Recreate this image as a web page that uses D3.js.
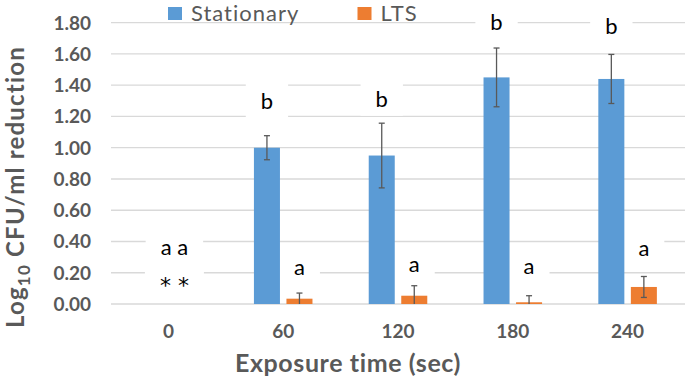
<!DOCTYPE html>
<html>
<head>
<meta charset="utf-8">
<script src="https://cdn.jsdelivr.net/npm/d3@7"></script>
<style>
  html, body { margin: 0; padding: 0; background: #fff; }
  svg { display: block; font-family: Lato, 'Open Sans', sans-serif; }
</style>
</head>
<body>
<svg id="chart"></svg>
<script>
// data
const categories = ['0', '60', '120', '180', '240'];
const seriesNames = ['Stationary', 'LTS'];
const stationary = [0, 1.00, 0.95, 1.45, 1.44];
const stationaryErr = [0, 0.077, 0.207, 0.188, 0.157];
const lts = [0, 0.034, 0.053, 0.011, 0.109];
const ltsErr = [0, 0.036, 0.064, 0.042, 0.067];
const yTicks = [0, 0.2, 0.4, 0.6, 0.8, 1.0, 1.2, 1.4, 1.6, 1.8];

// significance letters and the value height they sit at
const stationaryLetters = ['', 'b', 'b', 'b', 'b'];
const stationaryLetterAt = [0, 1.248, 1.262, 1.753, 1.728];
const ltsLetters = ['', 'a', 'a', 'a', 'a'];
const ltsLetterAt = [0, 0.186, 0.207, 0.192, 0.307];
const zeroNotes = ['a a', '* *'];
const zeroNoteAt = [0.314, 0.072];

const colors = { Stationary: '#5B9BD5', LTS: '#ED7D31' };

const W = 685, H = 377;
const svg = d3.select('#chart').attr('width', W).attr('height', H);

const x0 = d3.scaleBand().domain(categories).range([111, 685]).padding(0);
const bw = x0.bandwidth();
const x1 = d3.scaleBand().domain(seriesNames)
  .range([bw * 0.245, bw * 0.755]).paddingInner(0.2);
const y = d3.scaleLinear().domain([0, 1.8]).range([304, 22.7]);

// gridlines
svg.append('g')
  .selectAll('line')
  .data(yTicks)
  .join('line')
  .attr('x1', 111).attr('x2', 685)
  .attr('y1', d => y(d)).attr('y2', d => y(d))
  .attr('stroke', '#D9D9D9').attr('stroke-width', 1.3);

// y tick labels
svg.append('g')
  .selectAll('text')
  .data(yTicks)
  .join('text')
  .attr('x', 91).attr('y', d => y(d))
  .attr('dy', '0.36em')
  .attr('text-anchor', 'end')
  .style('font-size', '19px').style('font-weight', 'bold')
  .style('fill', '#595959')
  .text(d => d.toFixed(2));

// x tick labels
svg.append('g')
  .selectAll('text')
  .data(categories)
  .join('text')
  .attr('x', d => x0(d) + bw / 2).attr('y', 337.5)
  .attr('text-anchor', 'middle')
  .style('font-size', '19px').style('font-weight', 'bold')
  .style('fill', '#595959')
  .text(d => d);

// axis titles
svg.append('text')
  .attr('x', 348).attr('y', 371.5)
  .attr('text-anchor', 'middle')
  .style('font-size', '25px').style('font-weight', 'bold')
  .style('letter-spacing', '0.6px')
  .style('fill', '#595959')
  .text('Exposure time (sec)');

const yTitle = svg.append('text')
  .attr('transform', 'translate(24,187) rotate(-90)')
  .attr('text-anchor', 'middle')
  .style('font-size', '24px').style('font-weight', 'bold')
  .style('letter-spacing', '1.2px')
  .style('fill', '#595959');
yTitle.append('tspan').text('Log');
yTitle.append('tspan').attr('dy', 6).style('font-size', '17px').text('10');
yTitle.append('tspan').attr('dy', -6).text(' CFU/ml reduction');

// labels: build one list so boxes and texts come from the same rows
const labels = [];
categories.forEach((c, i) => {
  if (stationaryLetters[i]) labels.push({ x: x0(c) + x1('Stationary') + x1.bandwidth() / 2, v: stationaryLetterAt[i], t: stationaryLetters[i] });
  if (ltsLetters[i]) labels.push({ x: x0(c) + x1('LTS') + x1.bandwidth() / 2, v: ltsLetterAt[i], t: ltsLetters[i] });
});
zeroNotes.forEach((t, i) => labels.push({ x: x0('0') + bw / 2 + 6, v: zeroNoteAt[i], t }));

const boxLayer = svg.append('g');
const barLayer = svg.append('g');
const errLayer = svg.append('g');
const textLayer = svg.append('g');

const labelTexts = textLayer.selectAll('text')
  .data(labels)
  .join('text')
  .attr('x', d => d.x).attr('y', d => y(d.v))
  .attr('text-anchor', 'middle')
  .style('font-size', '22px')
  .style('font-family', d => d.t.includes('*') ? "'DejaVu Sans', sans-serif" : null)
  .style('fill', '#000')
  .text(d => d.t);

labelTexts.each(function () {
  const b = this.getBBox();
  boxLayer.append('rect')
    .attr('x', b.x - 15).attr('y', b.y - 4)
    .attr('width', b.width + 30).attr('height', b.height + 8)
    .attr('fill', '#fff');
});

// bars
const rows = categories.map((c, i) => ({ c, Stationary: stationary[i], LTS: lts[i], errS: stationaryErr[i], errL: ltsErr[i] }));
rows.forEach(r => {
  seriesNames.forEach(s => {
    const v = r[s];
    const err = s === 'Stationary' ? r.errS : r.errL;
    const xb = x0(r.c) + x1(s);
    if (v > 0) {
      barLayer.append('rect')
        .attr('x', xb).attr('y', y(v))
        .attr('width', x1.bandwidth()).attr('height', y(0) - y(v))
        .attr('fill', colors[s]);
    }
    if (err > 0) {
      const cx = xb + x1.bandwidth() / 2;
      const lo = Math.max(0, v - err), hi = v + err;
      const g = errLayer.append('g').attr('stroke', '#595959').attr('stroke-width', 1.3);
      g.append('line').attr('x1', cx).attr('x2', cx).attr('y1', y(lo)).attr('y2', y(hi));
      g.append('line').attr('x1', cx - 3).attr('x2', cx + 3).attr('y1', y(hi)).attr('y2', y(hi));
      if (v - err > 0) g.append('line').attr('x1', cx - 3).attr('x2', cx + 3).attr('y1', y(lo)).attr('y2', y(lo));
    }
  });
});

// legend
const legend = svg.append('g');
const legendX = [168, 357.5];
seriesNames.forEach((s, i) => {
  legend.append('rect')
    .attr('x', legendX[i]).attr('y', 7)
    .attr('width', 14).attr('height', 13)
    .attr('fill', colors[s]);
  legend.append('text')
    .attr('x', legendX[i] + 23).attr('y', 21.3)
    .style('font-size', '22px')
    .style('letter-spacing', '1px')
    .style('fill', '#595959')
    .text(s);
});
</script>
</body>
</html>
